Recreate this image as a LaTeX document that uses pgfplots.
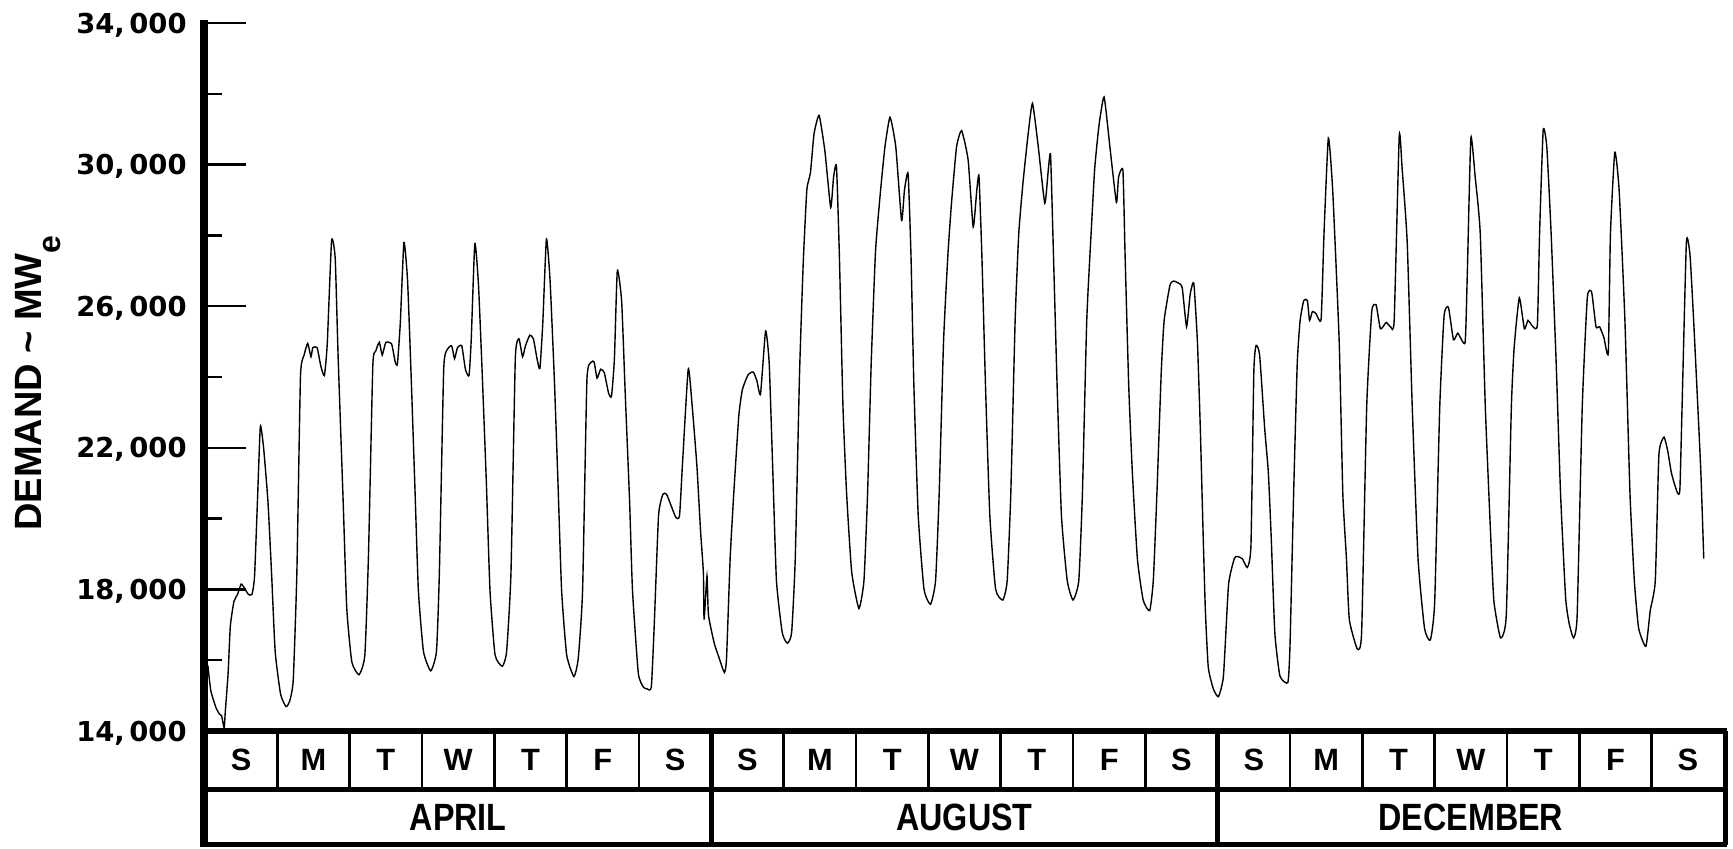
\documentclass[border=0pt]{standalone}
\usepackage{fontspec}
\setmainfont{Liberation Sans}
\newfontfamily\tickfont{DejaVu Sans}
\usepackage{graphicx}
\usepackage{pgfplots}
\usepackage{pgfplotstable}
\pgfplotsset{compat=1.18}

\pgfplotstableread{
day demand
0.04 15850
0.08 15140
0.155 14640
0.20 14480
0.23 14430
0.265 14080
0.28 14530
0.32 15650
0.35 16960
0.40 17660
0.45 17860
0.50 18150
0.55 18020
0.60 17860
0.65 17860
0.685 18370
0.725 20490
0.765 22600
0.81 22000
0.87 20490
0.92 18470
0.97 16250
1.045 15040
1.12 14690
1.17 14840
1.22 15440
1.27 18470
1.32 24020
1.37 24620
1.42 24950
1.465 24570
1.49 24830
1.55 24830
1.60 24320
1.65 24040
1.69 24930
1.75 27850
1.80 27350
1.84 24600
1.91 20490
1.96 17460
2.03 15950
2.13 15590
2.21 16150
2.26 18970
2.32 24320
2.36 24730
2.41 24980
2.45 24620
2.50 24980
2.58 24930
2.63 24420
2.66 24370
2.70 25530
2.75 27800
2.80 26740
2.85 24020
2.90 21000
2.95 17970
3.02 16250
3.12 15700
3.20 16250
3.24 18470
3.30 24220
3.35 24780
3.41 24880
3.45 24520
3.49 24830
3.55 24880
3.60 24220
3.65 24040
3.68 25030
3.73 27770
3.78 26640
3.83 24220
3.89 21000
3.94 17970
4.01 16150
4.11 15830
4.17 16250
4.23 18470
4.29 24520
4.34 25080
4.39 24570
4.43 24880
4.49 25180
4.54 25080
4.59 24520
4.63 24240
4.67 25530
4.72 27900
4.77 26740
4.83 23920
4.88 21000
4.93 17970
5.00 16150
5.10 15540
5.16 16050
5.22 17970
5.28 23920
5.34 24420
5.38 24420
5.42 23970
5.47 24220
5.52 24120
5.58 23540
5.62 23460
5.66 24520
5.70 27000
5.76 26140
5.81 23510
5.87 20490
5.91 17970
5.99 15640
6.06 15240
6.11 15190
6.17 15240
6.21 16960
6.27 20080
6.33 20690
6.38 20690
6.43 20440
6.51 20030
6.56 20080
6.60 21500
6.68 24220
6.73 23310
6.80 21500
6.85 19680
6.89 18470
6.90 17150
6.94 18380
6.96 17280
7.04 16480
7.11 16050
7.18 15650
7.21 16050
7.26 18870
7.31 20710
7.38 22910
7.43 23650
7.51 24070
7.58 24140
7.63 23890
7.68 23520
7.75 25300
7.80 24380
7.85 21320
7.90 18250
7.98 16780
8.05 16480
8.11 16780
8.16 18870
8.22 24140
8.27 27200
8.32 29280
8.37 29770
8.42 30870
8.49 31390
8.57 30380
8.65 28790
8.69 29650
8.73 29950
8.77 27440
8.82 23150
8.87 20710
8.94 18500
9.04 17460
9.11 18250
9.16 20710
9.21 24380
9.27 27560
9.34 29280
9.40 30500
9.47 31340
9.55 30500
9.63 28420
9.67 29280
9.72 29740
9.76 27440
9.80 23770
9.86 20090
9.94 18010
10.03 17580
10.10 18250
10.15 20710
10.21 24990
10.27 27440
10.32 28910
10.39 30500
10.46 30960
10.55 30130
10.62 28240
10.67 29280
10.70 29670
10.74 27440
10.79 23770
10.85 20090
10.93 18010
11.03 17700
11.09 18250
11.14 20710
11.20 25600
11.25 28050
11.31 29520
11.38 30870
11.44 31730
11.52 30500
11.61 28910
11.66 29890
11.69 30260
11.73 27440
11.78 23770
11.84 20090
11.92 18250
12.00 17700
12.08 18250
12.13 20710
12.19 25600
12.25 28050
12.30 29890
12.36 31120
12.43 31910
12.51 30500
12.60 28930
12.63 29650
12.69 29830
12.72 27440
12.77 23770
12.82 21320
12.89 18870
12.97 17700
13.06 17400
13.11 18250
13.16 20710
13.22 24140
13.26 25600
13.34 26590
13.39 26710
13.46 26650
13.51 26520
13.57 25420
13.62 26340
13.67 26650
13.72 24990
13.76 22540
13.80 19480
13.83 17400
13.87 15800
13.94 15190
14.01 14970
14.08 15560
14.15 18130
14.23 18870
14.27 18930
14.34 18870
14.41 18620
14.46 19240
14.50 24140
14.53 24890
14.58 24620
14.65 22540
14.70 21320
14.74 19480
14.79 16780
14.86 15560
14.97 15370
15.00 16420
15.05 20710
15.10 24380
15.14 25600
15.19 26160
15.24 26160
15.27 25600
15.31 25850
15.36 25790
15.43 25630
15.47 28050
15.53 30750
15.59 29280
15.68 24990
15.73 20710
15.78 18870
15.82 17150
15.93 16320
15.99 16780
16.06 23150
16.13 25850
16.19 26040
16.25 25360
16.33 25540
16.39 25420
16.44 25600
16.51 30810
16.55 29890
16.62 27810
16.69 23150
16.77 18870
16.86 16900
16.94 16570
17.00 17640
17.07 23150
17.13 25730
17.19 25970
17.26 25050
17.32 25240
17.42 24970
17.45 26830
17.50 30750
17.56 29650
17.63 28050
17.70 23150
17.78 19240
17.82 17640
17.91 16630
17.99 17280
18.06 23150
18.10 24870
18.17 26240
18.24 25360
18.29 25600
18.36 25420
18.42 25480
18.45 28050
18.50 30970
18.55 30500
18.61 28050
18.68 24380
18.74 20710
18.81 17770
18.86 17030
18.92 16630
18.97 17280
19.04 23150
19.11 26240
19.17 26400
19.23 25420
19.28 25420
19.34 25110
19.40 24680
19.43 28050
19.49 30350
19.55 29280
19.63 25600
19.70 20710
19.76 18250
19.82 16900
19.92 16390
19.98 17400
20.05 18250
20.10 21810
20.17 22300
20.22 21930
20.27 21320
20.31 21010
20.36 20710
20.39 20830
20.42 23150
20.48 27810
20.53 27440
20.58 25600
20.63 23500
20.68 21300
20.72 18870
}\demand

\begin{document}
\begin{tikzpicture}
\path[use as bounding box] (0,0) rectangle (866.5pt,424pt);
\begin{axis}[
  at={(102.5pt,58.5pt)}, anchor=south west,
  width=759.5pt, height=354pt, scale only axis,
  xmin=0, xmax=21, ymin=14000, ymax=34000,
  axis x line=none, axis y line*=left,
  y axis line style={draw=none},
  scaled y ticks=false,
  ytick={14000,18000,22000,26000,30000,34000},
  yticklabels={{14,\,000},{18,\,000},{22,\,000},{26,\,000},{30,\,000},{34,\,000}},
  minor ytick={16000,20000,24000,28000,32000},
  tick align=inside,
  major tick length=20.5pt, minor tick length=8.5pt,
  tick style={black, line width=1.2pt},
  yticklabel style={font=\tickfont\bfseries\fontsize{13.7}{14}\selectfont, anchor=base east, inner sep=0pt, xshift=-9pt, yshift=-5pt},
  clip=false,
]
\addplot[black, line width=0.7pt, smooth, tension=0.3] table[x=day,y=demand] {\demand};
\end{axis}
\begin{scope}[x=0.5pt,y=0.5pt]
\draw[line width=4pt] (204,1) -- (204,828);
\draw[line width=3pt] (204,117) -- (1727,117);
\draw[line width=2.5pt] (204,59) -- (1727,59);
\draw[line width=2.5pt] (204,3.5) -- (1727,3.5);
\draw[line width=2.5pt] (1725.5,3.5) -- (1725.5,117);
\foreach \d in {1,...,6,8,9,...,13,15,16,...,20}
  \draw[line width=1.2pt] ({205+\d*72.333},59) -- ({205+\d*72.333},117);
\foreach \d in {7,14}
  \draw[line width=2.5pt] ({205+\d*72.333},3.5) -- ({205+\d*72.333},117);
\foreach \l [count=\i from 0] in {S,M,T,W,T,F,S,S,M,T,W,T,F,S,S,M,T,W,T,F,S}
  \node[font=\bfseries\fontsize{15.4}{16}\selectfont, inner sep=0pt] at ({205+(\i+0.5)*72.333},88) {\l};
\node[font=\bfseries\fontsize{19}{20}\selectfont, inner sep=0pt] at ({205+3.5*72.333},31) {\scalebox{0.85}[1]{APRIL}};
\node[font=\bfseries\fontsize{19}{20}\selectfont, inner sep=0pt] at ({205+10.5*72.333},31) {\scalebox{0.85}[1]{AUGUST}};
\node[font=\bfseries\fontsize{19}{20}\selectfont, inner sep=0pt] at ({205+17.5*72.333},31) {\scalebox{0.85}[1]{DECEMBER}};
\node[rotate=90, anchor=base, inner sep=0pt, font=\bfseries\fontsize{19}{20}\selectfont] at (41,465)
  {DEMAND \textasciitilde{} MW\raisebox{-9.5pt}{\fontsize{16}{16}\selectfont e}};
\end{scope}
\end{tikzpicture}
\end{document}
